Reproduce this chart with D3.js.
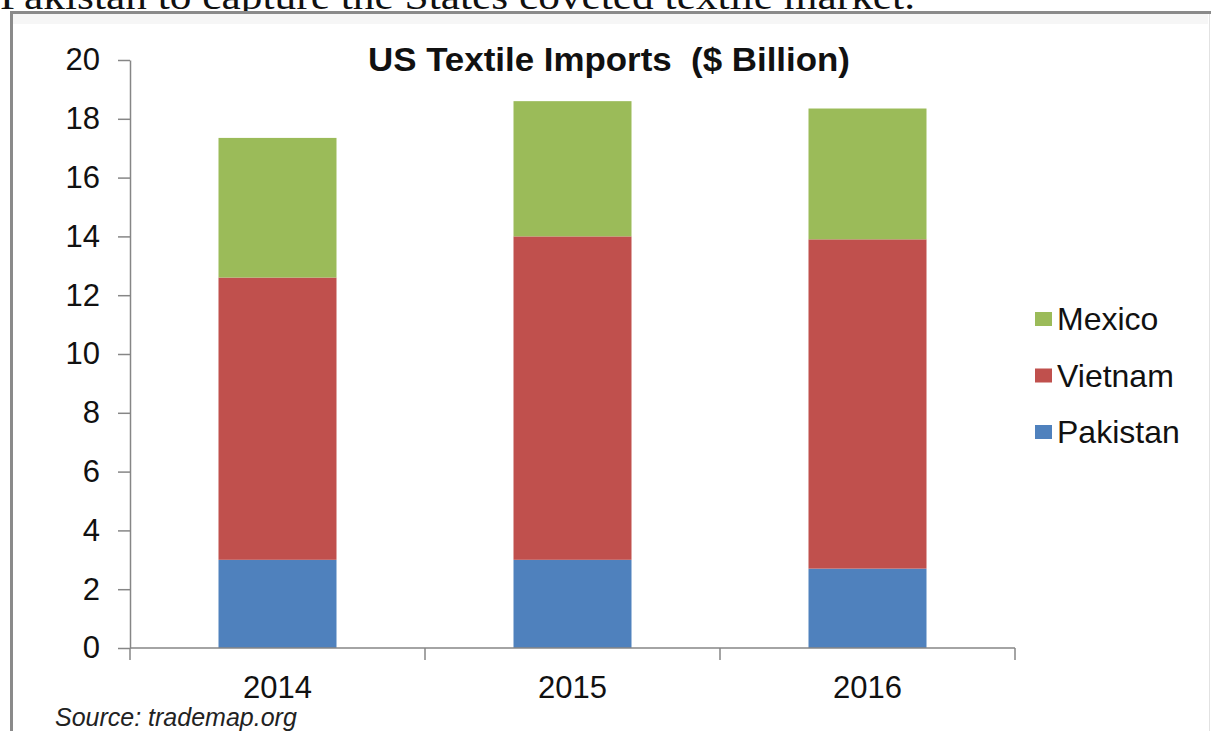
<!DOCTYPE html>
<html>
<head>
<meta charset="utf-8">
<script src="https://cdn.jsdelivr.net/npm/d3@7"></script>
<style>
	body { margin: 0; background: #fff; overflow: hidden; }
	svg { display: block; }
</style>
</head>
<body>
<div id="my_dataviz"></div>
<script>
// chart data
var years = ["2014", "2015", "2016"];
var countries = ["Pakistan", "Vietnam", "Mexico"];
var pakistan = [3.0, 3.0, 2.7];
var vietnam = [9.6, 11.0, 11.2];
var mexico = [4.75, 4.6, 4.45];
var yTicks = [0, 2, 4, 6, 8, 10, 12, 14, 16, 18, 20];
var colors = ["#4f81bd", "#c0504d", "#9bbb59"];

var svgWidth = 1211,
	svgHeight = 731;

var svg = d3.select("#my_dataviz")
	.append("svg")
		.attr("width", svgWidth)
		.attr("height", svgHeight);

// cut off text line from the article above the chart
svg.append("text")
	.attr("x", 0)
	.attr("y", 9)
	.attr("textLength", 915)
	.attr("lengthAdjust", "spacingAndGlyphs")
	.style("font-family", "'Liberation Serif', 'DejaVu Serif', serif")
	.style("font-size", "38px")
	.attr("fill", "#111")
	.text("Pakistan to capture the States coveted textile market.");

// frame around the chart picture
svg.append("rect")
	.attr("x", 12)
	.attr("y", 14)
	.attr("width", 1196)
	.attr("height", 10)
	.attr("fill", "#f6f6f6");
svg.append("line")
	.attr("x1", 10).attr("x2", 1211)
	.attr("y1", 12.5).attr("y2", 12.5)
	.attr("stroke", "#8a8a8a")
	.attr("stroke-width", 3);
svg.append("line")
	.attr("x1", 11.5).attr("x2", 11.5)
	.attr("y1", 11).attr("y2", 731)
	.attr("stroke", "#8a8a8a")
	.attr("stroke-width", 3);
svg.append("line")
	.attr("x1", 1209.5).attr("x2", 1209.5)
	.attr("y1", 14).attr("y2", 731)
	.attr("stroke", "#e2e2e2")
	.attr("stroke-width", 1);

var plot = {left: 130, right: 1015, top: 60, bottom: 648};

var x = d3.scaleBand()
	.domain(years)
	.range([plot.left, plot.right])
	.paddingInner(0.6)
	.paddingOuter(0.3);

var y = d3.scaleLinear()
	.domain([0, 20])
	.range([plot.bottom, plot.top]);

var color = d3.scaleOrdinal()
	.domain(countries)
	.range(colors);

// stack the three series
var rows = years.map(function(yr, i) {
	return {year: yr, Pakistan: pakistan[i], Vietnam: vietnam[i], Mexico: mexico[i]};
});
var series = d3.stack().keys(countries)(rows);

// title
svg.append("text")
	.attr("x", 609)
	.attr("y", 71)
	.attr("text-anchor", "middle")
	.attr("textLength", 482)
	.attr("lengthAdjust", "spacingAndGlyphs")
	.style("white-space", "pre")
	.style("font-family", "'Liberation Sans', Arial, sans-serif")
	.style("font-weight", "bold")
	.style("font-size", "34px")
	.attr("fill", "#111")
	.text("US Textile Imports  ($ Billion)");

// y axis
var yAxis = svg.append("g")
	.attr("transform", "translate(" + plot.left + ",0)")
	.call(d3.axisLeft(y).tickValues(yTicks).tickSize(12).tickSizeOuter(0).tickPadding(18));

yAxis.selectAll("text")
	.style("font-family", "'Liberation Sans', Arial, sans-serif")
	.style("font-size", "31px")
	.attr("fill", "#111");
yAxis.selectAll("line, path").attr("stroke", "#868686").attr("stroke-width", 1.5);

// bars
svg.append("g")
	.selectAll("g")
	.data(series)
	.enter()
	.append("g")
		.attr("fill", function(d) { return color(d.key); })
	.selectAll("rect")
	.data(function(d) { return d; })
	.enter()
	.append("rect")
		.attr("x", function(d) { return x(d.data.year); })
		.attr("y", function(d) { return y(d[1]); })
		.attr("width", x.bandwidth())
		.attr("height", function(d) { return y(d[0]) - y(d[1]); });

// x axis: line, category boundary ticks and year labels
var xAxis = svg.append("g")
	.attr("transform", "translate(0," + plot.bottom + ")");

xAxis.append("line")
	.attr("x1", plot.left)
	.attr("x2", plot.right)
	.attr("stroke", "#868686")
	.attr("stroke-width", 1.5);

var bounds = years.map(function(yr) { return x(yr) - x.step() * 0.3; });
bounds.push(plot.right);

xAxis.selectAll("line.bound")
	.data(bounds)
	.enter()
	.append("line")
		.attr("class", "bound")
		.attr("x1", function(d) { return d; })
		.attr("x2", function(d) { return d; })
		.attr("y1", 0)
		.attr("y2", 12)
		.attr("stroke", "#868686")
		.attr("stroke-width", 1.5);

xAxis.selectAll("text")
	.data(years)
	.enter()
	.append("text")
		.attr("x", function(d) { return x(d) + x.bandwidth() / 2; })
		.attr("y", 50)
		.attr("text-anchor", "middle")
		.style("font-family", "'Liberation Sans', Arial, sans-serif")
		.style("font-size", "31px")
		.attr("fill", "#111")
		.text(function(d) { return d; });

// legend, top item is Mexico
var legend = svg.append("g")
	.selectAll("g")
	.data(countries.slice().reverse())
	.enter()
	.append("g")
		.attr("transform", function(d, i) { return "translate(1035," + (319 + i * 56.5) + ")"; });

legend.append("rect")
	.attr("x", 0)
	.attr("y", -7)
	.attr("width", 17)
	.attr("height", 14)
	.attr("fill", function(d) { return color(d); });

legend.append("text")
	.attr("x", 22)
	.attr("y", 11)
	.style("font-family", "'Liberation Sans', Arial, sans-serif")
	.style("font-size", "32px")
	.attr("fill", "#111")
	.text(function(d) { return d; });

// source note
svg.append("text")
	.attr("x", 55)
	.attr("y", 726)
	.style("font-family", "'Liberation Sans', Arial, sans-serif")
	.style("font-style", "italic")
	.style("font-size", "25px")
	.attr("fill", "#222")
	.text("Source: trademap.org");
</script>
</body>
</html>
